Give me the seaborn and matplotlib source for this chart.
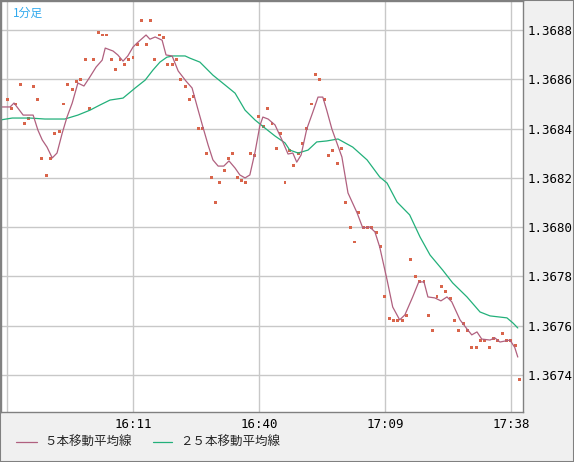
import numpy as np
import pandas as pd
import seaborn as sns
import matplotlib.pyplot as plt
from matplotlib.patches import Rectangle

# one dot per minute, starting 15:42
prices = [
    1.36852, 1.36848, 1.36850, 1.36858, 1.36842, 1.36844, 1.36857, 1.36852,
    1.36828, 1.36821, 1.36828, 1.36838, 1.36839, 1.36850, 1.36858, 1.36856,
    1.36859, 1.36860, 1.36868, 1.36848, 1.36868, 1.36879, 1.36878, 1.36878,
    1.36868, 1.36864, 1.36868, 1.36866, 1.36868, 1.36869, 1.36874, 1.36884,
    1.36874, 1.36884, 1.36868, 1.36878, 1.36877, 1.36866, 1.36866, 1.36868,
    1.36860, 1.36857, 1.36852, 1.36853, 1.36840, 1.36840, 1.36830, 1.36820,
    1.36810, 1.36818, 1.36823, 1.36828, 1.36830, 1.36820, 1.36819, 1.36818,
    1.36830, 1.36829, 1.36845, 1.36841, 1.36848, 1.36842, 1.36832, 1.36838,
    1.36818, 1.36831, 1.36825, 1.36830, 1.36834, 1.36840, 1.36850, 1.36862,
    1.36860, 1.36852, 1.36829, 1.36831, 1.36826, 1.36832, 1.36810, 1.36800,
    1.36794, 1.36806, 1.36800, 1.36800, 1.36800, 1.36798, 1.36792, 1.36772,
    1.36763, 1.36762, 1.36762, 1.36762, 1.36764, 1.36787, 1.36780, 1.36778,
    1.36778, 1.36764, 1.36758, 1.36772, 1.36776, 1.36774, 1.36771, 1.36762,
    1.36758, 1.36761, 1.36758, 1.36751, 1.36751, 1.36754, 1.36754, 1.36751,
    1.36755, 1.36754, 1.36757, 1.36754, 1.36754, 1.36752, 1.36738,
]

# moving averages (minutes after 15:42, value)
ma5_min = [-1.6, 0.7, 1.6, 3.7, 6.0, 7.1, 8.1, 9.2, 10.4, 11.5, 12.7, 13.8, 15.0,
           16.3, 17.7, 18.9, 20.5, 21.9, 22.6, 24.4, 25.5, 26.7, 27.8, 29.0, 29.9,
           32.0, 32.9, 34.1, 35.7, 36.6, 38.0, 39.4, 41.2, 42.6, 44.0, 45.1, 46.3,
           47.4, 48.6, 49.9, 51.1, 52.5, 53.6, 54.8, 55.9, 57.1, 58.2, 58.9, 60.1,
           61.7, 63.3, 64.7, 65.8, 66.7, 67.7, 69.0, 70.4, 71.6, 72.7, 73.6, 74.8,
           77.1, 78.5, 80.6, 81.9, 83.5, 84.7, 85.8, 87.5, 88.8, 90.4, 91.6, 93.4,
           94.8, 96.0, 96.9, 98.5, 99.9, 101.3, 102.4, 104.3, 105.9, 107.0, 108.2,
           109.3, 111.2, 112.3, 113.5, 115.8, 116.9, 117.6]
ma5_val = [1.368488, 1.368488, 1.368504, 1.368455, 1.368455, 1.368394, 1.368354,
           1.368325, 1.368281, 1.368301, 1.368382, 1.368447, 1.368504, 1.368585,
           1.368573, 1.368605, 1.368650, 1.368678, 1.368727, 1.368715, 1.368699,
           1.368674, 1.368695, 1.368731, 1.368747, 1.368780, 1.368763, 1.368772,
           1.368759, 1.368699, 1.368695, 1.368634, 1.368593, 1.368565, 1.368475,
           1.368406, 1.368333, 1.368273, 1.368248, 1.368248, 1.368269, 1.368240,
           1.368212, 1.368200, 1.368212, 1.368305, 1.368411, 1.368447, 1.368439,
           1.368415, 1.368354, 1.368297, 1.368301, 1.368264, 1.368293, 1.368398,
           1.368467, 1.368528, 1.368528, 1.368475, 1.368398, 1.368285, 1.368139,
           1.368058, 1.367997, 1.368001, 1.367981, 1.367920, 1.367786, 1.367676,
           1.367624, 1.367644, 1.367717, 1.367778, 1.367778, 1.367717, 1.367713,
           1.367701, 1.367717, 1.367697, 1.367624, 1.367587, 1.367563, 1.367575,
           1.367546, 1.367542, 1.367551, 1.367534, 1.367542, 1.367512, 1.367473]

ma25_min = [-1.6, 1.2, 5.3, 8.7, 13.3, 16.3, 19.1, 21.4, 23.7, 26.7, 29.5, 31.8,
            33.6, 35.2, 36.8, 38.2, 41.0, 42.1, 44.4, 47.4, 50.2, 52.5, 54.8, 57.1,
            59.4, 61.7, 64.0, 65.1, 67.0, 69.3, 71.3, 73.6, 76.2, 79.6, 82.9, 85.8,
            87.5, 89.8, 92.7, 95.1, 97.4, 100.3, 102.6, 105.9, 108.9, 111.2, 115.1,
            116.5, 117.6]
ma25_val = [1.368435, 1.368443, 1.368443, 1.368439, 1.368439, 1.368455, 1.368475,
            1.368496, 1.368516, 1.368524, 1.368565, 1.368597, 1.368638, 1.368670,
            1.368690, 1.368695, 1.368695, 1.368686, 1.368670, 1.368617, 1.368577,
            1.368544, 1.368475, 1.368435, 1.368402, 1.368370, 1.368342, 1.368313,
            1.368301, 1.368313, 1.368346, 1.368350, 1.368358, 1.368325, 1.368273,
            1.368204, 1.368179, 1.368102, 1.368050, 1.367960, 1.367887, 1.367826,
            1.367774, 1.367717, 1.367656, 1.367640, 1.367632, 1.367611, 1.367591]

tick_min = [0, 29, 58, 87, 116]
tick_labels = ['', '16:11', '16:40', '17:09', '17:38']
price_ticks = [1.3674, 1.3676, 1.3678, 1.3680, 1.3682, 1.3684, 1.3686, 1.3688]

dots = pd.DataFrame({'minute': np.arange(len(prices)), 'price': prices})
ma5 = pd.DataFrame({'minute': ma5_min, 'price': ma5_val})
ma25 = pd.DataFrame({'minute': ma25_min, 'price': ma25_val})

sns.set_style('white')
plt.rcParams['font.family'] = ['DejaVu Sans Mono', 'Noto Sans CJK JP']

W, H = 574, 462
fig = plt.figure(figsize=(W / 100, H / 100), dpi=100, facecolor='#f0f0f0')
ax = fig.add_axes([1 / W, 1 - 412 / H, 522 / W, 411 / H])
ax.set_facecolor('white')

c5 = '#b0607f'
c25 = '#22b07a'
sns.lineplot(data=ma25, x='minute', y='price', color=c25, lw=0.9, ax=ax)
sns.lineplot(data=ma5, x='minute', y='price', color=c5, lw=0.9, ax=ax)
sns.scatterplot(data=dots, x='minute', y='price', marker='s', s=4.5,
                color='#d9654b', edgecolor='none', linewidth=0, ax=ax)

ax.set_xlim(-1.4, 118.8)
ax.set_ylim(1.367250, 1.368918)
ax.set_xticks(tick_min)
ax.set_xticklabels(tick_labels)
ax.set_yticks(price_ticks)
ax.set_yticklabels([f'{p:.4f}' for p in price_ticks])
ax.yaxis.tick_right()
ax.grid(True, color='#c8c8c8', lw=1)
ax.tick_params(axis='both', length=0, labelsize=9, colors='black')
ax.tick_params(axis='x', pad=4)
ax.tick_params(axis='y', pad=3)
ax.set_xlabel('')
ax.set_ylabel('')
for sp in ax.spines.values():
    sp.set_color('#808080')
    sp.set_linewidth(1)

ax.text(0.022, 0.985, '1分足', transform=ax.transAxes, ha='left', va='top',
        color='#33aaee', fontsize=8.5, family=['Noto Sans CJK JP', 'DejaVu Sans'])

# legend at the bottom
ly = 1 - 442 / H
fig.add_artist(plt.Line2D([16 / W, 37 / W], [ly, ly], color=c5, lw=0.9))
fig.text(44 / W, ly, '５本移動平均線', ha='left', va='center', fontsize=9,
         family=['Noto Sans CJK JP', 'DejaVu Sans'])
fig.add_artist(plt.Line2D([153 / W, 172 / W], [ly, ly], color=c25, lw=0.9))
fig.text(180 / W, ly, '２５本移動平均線', ha='left', va='center', fontsize=9,
         family=['Noto Sans CJK JP', 'DejaVu Sans'])

fig.add_artist(Rectangle((0, 0), 1, 1, transform=fig.transFigure, fill=False,
                         edgecolor='#808080', lw=1.5))

fig.savefig('out.png', dpi=100, facecolor=fig.get_facecolor())
